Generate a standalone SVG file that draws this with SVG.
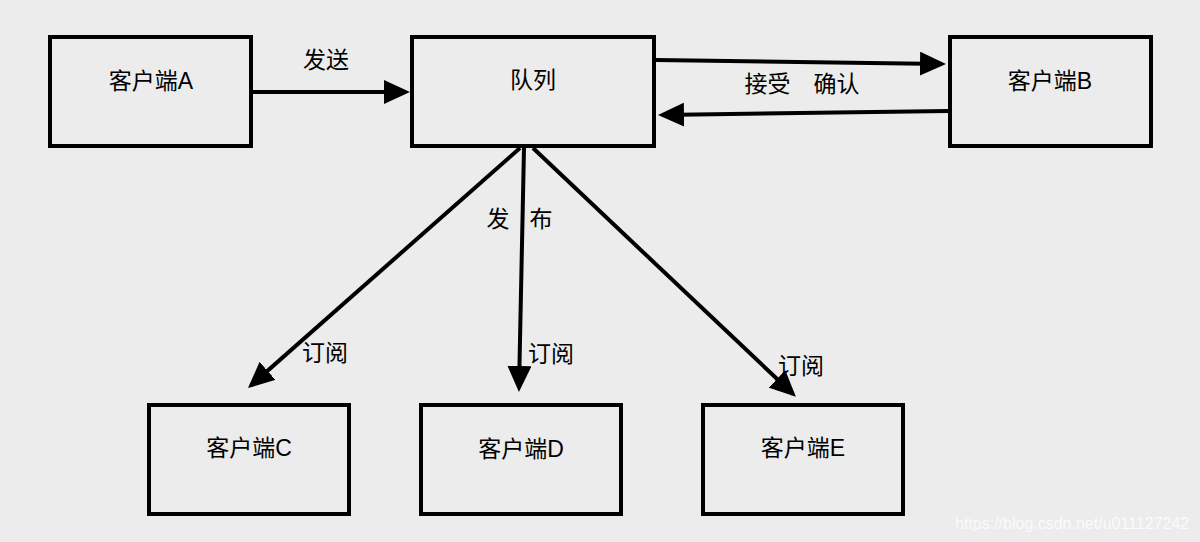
<svg xmlns="http://www.w3.org/2000/svg" width="1200" height="542" viewBox="0 0 1200 542">
<style>
.box{fill:none;stroke:#000;stroke-width:4}
.lbl{font-family:"Liberation Sans","Noto Sans CJK SC",sans-serif;font-size:23px;fill:#000;text-anchor:middle;dominant-baseline:central}
.edge{stroke:#000;stroke-width:4;fill:none;marker-end:url(#ah)}
.wm{font-family:"Liberation Sans",sans-serif;font-size:16px;fill:#fff;opacity:0.8}
</style>
<defs>
<marker id="ah" markerUnits="userSpaceOnUse" markerWidth="26" markerHeight="24" refX="22" refY="12" orient="auto">
<path d="M0,0 L26,12 L0,24 z" fill="#000"/>
</marker>
</defs>
<rect width="1200" height="542" fill="#ececec"/>
<g id="clientA"><rect class="box" x="50" y="37" width="201" height="109"/><text class="lbl" x="151" y="81">客户端A</text></g>
<g id="queue"><rect class="box" x="412" y="37" width="242" height="109"/><text class="lbl" x="533" y="80">队列</text></g>
<g id="clientB"><rect class="box" x="950" y="37" width="201" height="109"/><text class="lbl" x="1050" y="81">客户端B</text></g>
<g id="clientC"><rect class="box" x="149" y="405" width="200" height="109"/><text class="lbl" x="249" y="448">客户端C</text></g>
<g id="clientD"><rect class="box" x="421" y="405" width="200" height="109"/><text class="lbl" x="521" y="449">客户端D</text></g>
<g id="clientE"><rect class="box" x="703" y="405" width="200" height="109"/><text class="lbl" x="803" y="448">客户端E</text></g>
<g id="connectors">
<line class="edge" x1="253" y1="92" x2="406" y2="92"/>
<line class="edge" x1="656" y1="60" x2="942" y2="64"/>
<line class="edge" x1="948" y1="111" x2="662" y2="115"/>
<line class="edge" x1="520" y1="148" x2="251" y2="385.4"/>
<line class="edge" x1="524" y1="148" x2="519" y2="388"/>
<line class="edge" x1="533" y1="148" x2="793" y2="394"/>
<text class="lbl" x="326" y="60">发送</text>
<text class="lbl" x="802" y="84">接受　确认</text>
<text class="lbl" x="498" y="219">发</text>
<text class="lbl" x="541" y="219">布</text>
<text class="lbl" x="325" y="353">订阅</text>
<text class="lbl" x="551" y="354">订阅</text>
<text class="lbl" x="801" y="366">订阅</text>
</g>
<text class="wm" x="955" y="529">https://blog.csdn.net/u011127242</text>
</svg>
